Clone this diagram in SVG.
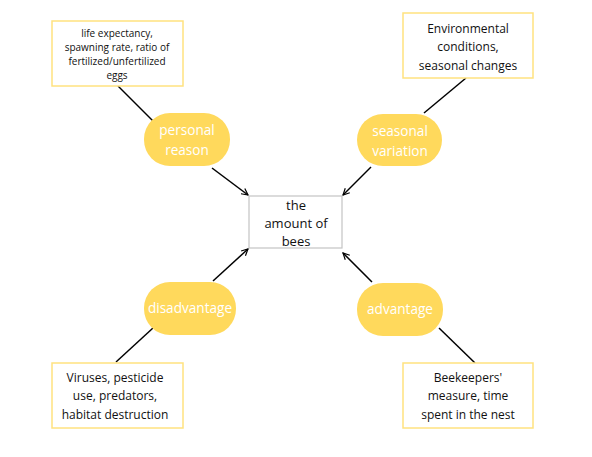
<svg xmlns="http://www.w3.org/2000/svg" width="592" height="457" viewBox="0 0 592 457">
<defs>
<style>
.note{fill:#fff;stroke:#ffe27f;stroke-width:1.5}
.pill{fill:#ffd95c;stroke:none}
.center{fill:#fff;stroke:#c4c4c4;stroke-width:1.2}
.t{font-family:"Open Sans","DejaVu Sans",sans-serif;text-anchor:middle;fill:#111}
.w{font-family:"Open Sans","DejaVu Sans",sans-serif;text-anchor:middle;fill:#fff;font-size:13.6px}
.ln{stroke:#000;stroke-width:1.5;fill:none}
</style>
<marker id="ah" viewBox="0 0 10 10" refX="9" refY="5" markerWidth="8" markerHeight="8" markerUnits="userSpaceOnUse" orient="auto">
<path d="M1,1 L9,5 L1,9" fill="none" stroke="#000" stroke-width="1.5"/>
</marker>
</defs>
<g id="connectors">
<line class="ln" x1="118" y1="86" x2="153" y2="121"/>
<line class="ln" x1="424" y1="113" x2="466" y2="78"/>
<line class="ln" x1="153" y1="328" x2="116" y2="362"/>
<line class="ln" x1="439" y1="328" x2="475" y2="363"/>
<line class="ln" x1="212" y1="168" x2="248" y2="195" marker-end="url(#ah)"/>
<line class="ln" x1="371" y1="167" x2="343" y2="195" marker-end="url(#ah)"/>
<line class="ln" x1="213" y1="281" x2="248" y2="249" marker-end="url(#ah)"/>
<line class="ln" x1="372" y1="282" x2="343" y2="253" marker-end="url(#ah)"/>
</g>
<g id="center">
<rect class="center" x="249" y="196" width="93" height="52"/>
<text class="t" font-size="13"><tspan x="296" y="210">the</tspan><tspan x="296" y="228">amount of</tspan><tspan x="296" y="246">bees</tspan></text>
</g>
<g id="personal">
<rect class="pill" x="144" y="113" width="86" height="53" rx="26"/>
<text class="w"><tspan x="187" y="135">personal</tspan><tspan x="187" y="155">reason</tspan></text>
</g>
<g id="seasonal">
<rect class="pill" x="357" y="114" width="85" height="52" rx="26"/>
<text class="w"><tspan x="400" y="136">seasonal</tspan><tspan x="400" y="156">variation</tspan></text>
</g>
<g id="disadvantage">
<rect class="pill" x="144" y="282" width="92" height="53" rx="26"/>
<text class="w" x="190" y="313">disadvantage</text>
</g>
<g id="advantage">
<rect class="pill" x="357" y="283" width="86" height="53" rx="26"/>
<text class="w" x="400" y="314">advantage</text>
</g>
<g id="note-personal">
<rect class="note" x="52" y="21" width="131" height="65"/>
<text class="t" font-size="10"><tspan x="117" y="37">life expectancy,</tspan><tspan x="117" y="51">spawning rate, ratio of</tspan><tspan x="117" y="65">fertilized/unfertilized</tspan><tspan x="117" y="79">eggs</tspan></text>
</g>
<g id="note-seasonal">
<rect class="note" x="403" y="13" width="130" height="65"/>
<text class="t" font-size="12"><tspan x="468" y="33">Environmental</tspan><tspan x="468" y="51">conditions,</tspan><tspan x="468" y="70">seasonal changes</tspan></text>
</g>
<g id="note-disadvantage">
<rect class="note" x="52" y="363" width="131" height="65"/>
<text class="t" font-size="12"><tspan x="115" y="382">Viruses, pesticide</tspan><tspan x="115" y="400">use, predators,</tspan><tspan x="115" y="419">habitat destruction</tspan></text>
</g>
<g id="note-advantage">
<rect class="note" x="403" y="363" width="130" height="65"/>
<text class="t" font-size="12"><tspan x="468" y="382">Beekeepers'</tspan><tspan x="468" y="400">measure, time</tspan><tspan x="468" y="419">spent in the nest</tspan></text>
</g>
</svg>
